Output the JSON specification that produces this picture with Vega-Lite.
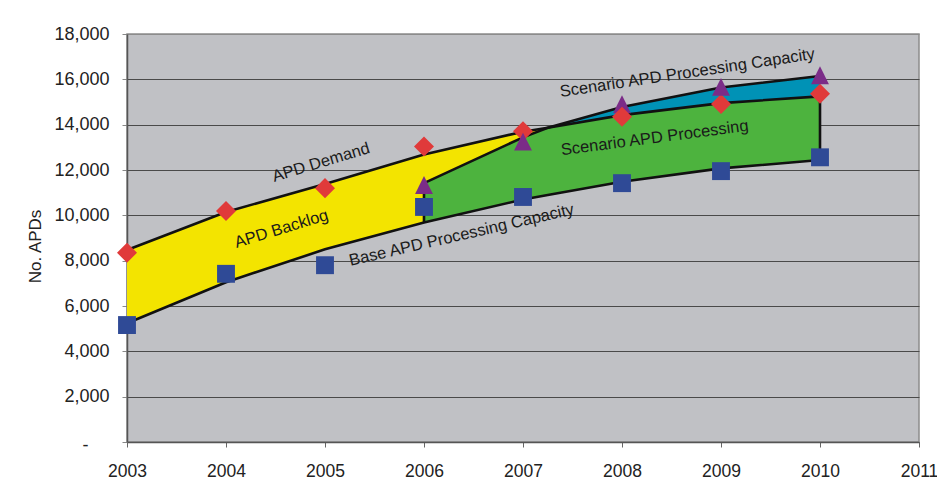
{
  "$schema": "https://vega.github.io/schema/vega-lite/v6.json",
  "width": 792,
  "height": 408,
  "autosize": {"type": "none"},
  "padding": {"left": 127, "top": 34, "right": 18, "bottom": 44},
  "background": "white",
  "config": {
    "font": "Liberation Sans",
    "view": {"fill": "#C0C1C5", "stroke": "#8C8C8C", "strokeWidth": 1.5}
  },
  "datasets": {
    "curves": [
      {"year": 2003, "demand": 8470, "base": 5240},
      {"year": 2004, "demand": 10150, "base": 7050},
      {"year": 2005, "demand": 11380, "base": 8500},
      {"year": 2006, "demand": 12680, "base": 9680, "scen": 11420, "proc": 11420},
      {"year": 2007, "demand": 13690, "base": 10700, "scen": 13440, "proc": 13440},
      {"year": 2007.25, "demand": 13860, "base": 10900, "scen": 13860, "proc": 13860},
      {"year": 2008, "demand": 14420, "base": 11480, "scen": 14780, "proc": 14420},
      {"year": 2009, "demand": 14950, "base": 12070, "scen": 15640, "proc": 14950},
      {"year": 2010, "demand": 15250, "base": 12440, "scen": 16150, "proc": 15250}
    ],
    "points": [
      {"year": 2003, "series": "Base", "value": 5160},
      {"year": 2004, "series": "Base", "value": 7420},
      {"year": 2005, "series": "Base", "value": 7800},
      {"year": 2006, "series": "Base", "value": 10370},
      {"year": 2007, "series": "Base", "value": 10810},
      {"year": 2008, "series": "Base", "value": 11420},
      {"year": 2009, "series": "Base", "value": 11950},
      {"year": 2010, "series": "Base", "value": 12560},
      {"year": 2003, "series": "Demand", "value": 8350},
      {"year": 2004, "series": "Demand", "value": 10190},
      {"year": 2005, "series": "Demand", "value": 11200},
      {"year": 2006, "series": "Demand", "value": 13040},
      {"year": 2007, "series": "Demand", "value": 13710},
      {"year": 2009, "series": "Demand", "value": 14910},
      {"year": 2010, "series": "Demand", "value": 15360},
      {"year": 2006, "series": "Scenario", "value": 11320},
      {"year": 2007, "series": "Scenario", "value": 13230},
      {"year": 2008, "series": "Scenario", "value": 14880},
      {"year": 2009, "series": "Scenario", "value": 15650},
      {"year": 2010, "series": "Scenario", "value": 16160},
      {"year": 2008, "series": "Demand", "value": 14350}
    ],
    "labels": [
      {"id": "demand", "year": 2004.96, "value": 12330, "label": "APD Demand"},
      {"id": "backlog", "year": 2004.56, "value": 9400, "label": "APD Backlog"},
      {"id": "base", "year": 2006.38, "value": 9130, "label": "Base APD Processing Capacity"},
      {"id": "scencap", "year": 2008.66, "value": 16280, "label": "Scenario APD Processing Capacity"},
      {"id": "scenproc", "year": 2008.33, "value": 13410, "label": "Scenario APD Processing"}
    ]
  },
  "encoding": {
    "x": {
      "field": "year",
      "type": "quantitative",
      "scale": {"domain": [2003, 2011], "nice": false, "zero": false},
      "axis": {
        "title": null,
        "values": [2003, 2004, 2005, 2006, 2007, 2008, 2009, 2010, 2011],
        "format": "d",
        "labelFontSize": 17.5,
        "labelColor": "#222222",
        "labelPadding": 15,
        "labelFlush": false,
        "labelOverlap": false,
        "tickSize": 5,
        "tickColor": "#666666",
        "domainColor": "#555555",
        "domainWidth": 1.5,
        "grid": false
      }
    },
    "y": {
      "field": "demand",
      "type": "quantitative",
      "scale": {"domain": [0, 18000], "nice": false},
      "title": "No. APDs",
      "axis": {
        "title": "No. APDs",
        "values": [0, 2000, 4000, 6000, 8000, 10000, 12000, 14000, 16000, 18000],
        "labelExpr": "datum.value === 0 ? '-' : format(datum.value, ',')",
        "labelFontSize": 18,
        "labelColor": "#222222",
        "labelPadding": {"condition": {"test": "datum.value === 0", "value": 34}, "value": 13},
        "labelOffset": {"condition": {"test": "datum.value === 0", "value": 3}, "value": 0},
        "tickSize": 5,
        "tickColor": "#888888",
        "domainColor": "#555555",
        "domainWidth": 1.5,
        "grid": true,
        "gridColor": {"condition": {"test": "datum.value === 18000", "value": "#8C8C8C"}, "value": "#4a4a4a"},
        "gridWidth": 1.2,
        "titleFontSize": 17,
        "titleFontWeight": "normal",
        "titleColor": "#222222",
        "titleAngle": -90,
        "titleAlign": "center",
        "titleBaseline": "alphabetic",
        "titleX": -87,
        "titleY": 212
      }
    }
  },
  "layer": [
    {
      "data": {"name": "curves"},
      "transform": [{"filter": "datum.year <= 2007.25"}],
      "mark": {"type": "area", "color": "#F3E400", "opacity": 1, "interpolate": "linear"},
      "encoding": {
        "y2": {"field": "base"}
      }
    },
    {
      "data": {"name": "curves"},
      "transform": [{"filter": "datum.year >= 2007.25"}],
      "mark": {"type": "area", "color": "#0092B6", "opacity": 1, "interpolate": "linear"},
      "encoding": {
        "y": {"field": "scen", "type": "quantitative", "title": "No. APDs"},
        "y2": {"field": "demand"}
      }
    },
    {
      "data": {"name": "curves"},
      "transform": [{"filter": "datum.year >= 2006"}],
      "mark": {"type": "area", "color": "#4DB33E", "opacity": 1, "interpolate": "linear"},
      "encoding": {
        "y": {"field": "proc", "type": "quantitative", "title": "No. APDs"},
        "y2": {"field": "base"}
      }
    },
    {
      "data": {"name": "curves"},
      "mark": {"type": "line", "color": "#111111", "strokeWidth": 2.6, "interpolate": "linear"},
      "encoding": {
        "y": {"field": "demand", "type": "quantitative", "title": "No. APDs"}
      }
    },
    {
      "data": {"name": "curves"},
      "mark": {"type": "line", "color": "#111111", "strokeWidth": 2.6, "interpolate": "linear"},
      "encoding": {
        "y": {"field": "base", "type": "quantitative", "title": "No. APDs"}
      }
    },
    {
      "data": {"name": "curves"},
      "transform": [{"filter": "datum.year >= 2006"}],
      "mark": {"type": "line", "color": "#111111", "strokeWidth": 2.6, "interpolate": "linear"},
      "encoding": {
        "y": {"field": "scen", "type": "quantitative", "title": "No. APDs"}
      }
    },
    {
      "data": {"name": "curves"},
      "transform": [{"filter": "datum.year === 2006 || datum.year === 2010"}],
      "mark": {"type": "rule", "color": "#111111", "strokeWidth": 2.6},
      "encoding": {
        "y": {"field": "base", "type": "quantitative", "title": "No. APDs"},
        "y2": {"field": "proc"}
      }
    },
    {
      "data": {"name": "points"},
      "mark": {"type": "point", "filled": true, "opacity": 1, "size": 320, "strokeWidth": 0},
      "encoding": {
        "y": {"field": "value", "type": "quantitative", "title": "No. APDs"},
        "shape": {
          "field": "series",
          "type": "nominal",
          "scale": {"domain": ["Demand", "Base", "Scenario"], "range": ["M-1.12,0L0,-1.12L1.12,0L0,1.12Z", "square", "M0,-1.05L-1,0.95L1,0.95Z"]},
          "legend": null
        },
        "color": {
          "field": "series",
          "type": "nominal",
          "scale": {"domain": ["Demand", "Base", "Scenario"], "range": ["#E03A3A", "#2F4A96", "#7B2C88"]},
          "legend": null
        }
      }
    },
    {
      "data": {"name": "labels"},
      "transform": [{"filter": "datum.id === 'demand' || datum.id === 'backlog'"}],
      "mark": {"type": "text", "fontSize": 16.5, "color": "#1a1a1a", "angle": -17, "align": "center", "baseline": "middle"},
      "encoding": {
        "y": {"field": "value", "type": "quantitative", "title": "No. APDs"},
        "text": {"field": "label"}
      }
    },
    {
      "data": {"name": "labels"},
      "transform": [{"filter": "datum.id === 'base'"}],
      "mark": {"type": "text", "fontSize": 16.5, "color": "#1a1a1a", "angle": -13, "align": "center", "baseline": "middle"},
      "encoding": {
        "y": {"field": "value", "type": "quantitative", "title": "No. APDs"},
        "text": {"field": "label"}
      }
    },
    {
      "data": {"name": "labels"},
      "transform": [{"filter": "datum.id === 'scencap'"}],
      "mark": {"type": "text", "fontSize": 16.5, "color": "#1a1a1a", "angle": -8.5, "align": "center", "baseline": "middle"},
      "encoding": {
        "y": {"field": "value", "type": "quantitative", "title": "No. APDs"},
        "text": {"field": "label"}
      }
    },
    {
      "data": {"name": "labels"},
      "transform": [{"filter": "datum.id === 'scenproc'"}],
      "mark": {"type": "text", "fontSize": 16.5, "color": "#1a1a1a", "angle": -7.5, "align": "center", "baseline": "middle"},
      "encoding": {
        "y": {"field": "value", "type": "quantitative", "title": "No. APDs"},
        "text": {"field": "label"}
      }
    }
  ]
}
